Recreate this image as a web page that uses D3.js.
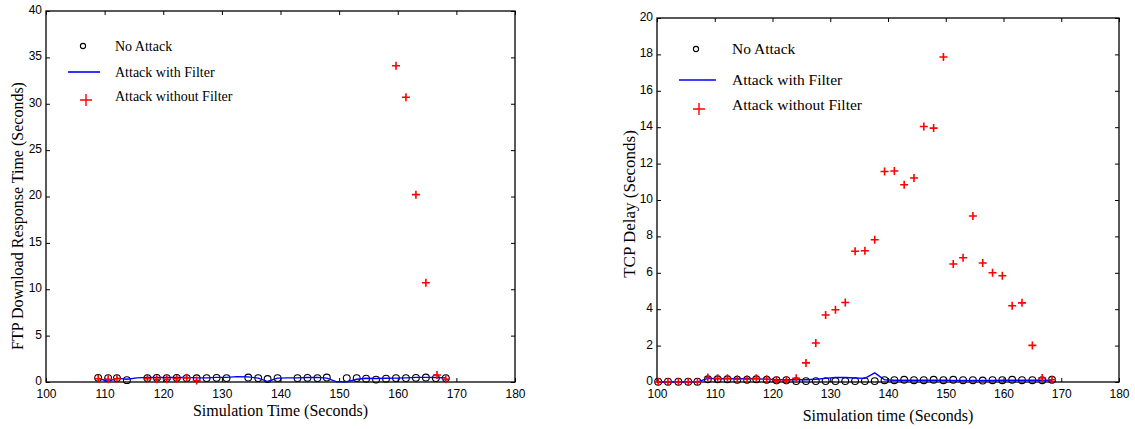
<!DOCTYPE html>
<html>
<head>
<meta charset="utf-8">
<script src="https://cdn.jsdelivr.net/npm/d3@7"></script>
<style>
    body { margin: 0; background: #fff; }
    svg { display: block; font-family: "Liberation Serif", "Times New Roman", serif; }
    .axis path { display: none; }
    .axis line { stroke: #000; }
</style>
</head>
<body>
<svg id="chart" width="1135" height="429"></svg>
<script>
// left panel: FTP download response time
const ftpTimeNoAttack = [108.9, 110.6, 112.1, 113.8, 117.3, 118.9, 120.6, 122.3, 124.0, 125.7, 127.4, 129.1, 130.8,
    134.5, 136.2, 137.8, 139.5, 142.9, 144.6, 146.3, 147.9, 151.3, 153.0, 154.6, 156.3, 158.0, 159.7, 161.4,
    163.1, 164.8, 166.5, 168.2];
const ftpNoAttack = [0.45, 0.42, 0.42, 0.2, 0.42, 0.45, 0.42, 0.45, 0.42, 0.4, 0.42, 0.45, 0.42,
    0.48, 0.42, 0.32, 0.42, 0.42, 0.45, 0.42, 0.48, 0.42, 0.42, 0.36, 0.26, 0.36, 0.42, 0.42,
    0.45, 0.48, 0.42, 0.42];

const ftpTimeFilter = [108.9, 110.6, 112.1, 113.8, 115.5, 117.3, 118.9, 120.6, 122.3, 124.0, 125.7, 127.4, 129.1,
    130.8, 132.6, 134.5, 136.2, 137.8, 139.5, 141.2, 142.9, 144.6, 146.3, 147.9, 149.6, 151.3, 153.0, 154.6,
    156.3, 158.0, 159.7, 161.4, 163.1, 164.8, 166.5, 168.2];
const ftpFilter = [0.4, 0.05, 0.42, 0.3, 0.45, 0.5, 0.48, 0.48, 0.48, 0.5, 0.45, 0.45, 0.5,
    0.5, 0.58, 0.55, 0.42, 0.05, 0.42, 0.45, 0.45, 0.48, 0.5, 0.42, 0.02, 0.02, 0.3, 0.4,
    0.38, 0.4, 0.42, 0.45, 0.5, 0.5, 0.48, 0.45];

const ftpTimeNoFilter = [108.9, 110.6, 112.1, 117.3, 118.9, 120.6, 122.3, 124.0, 125.7,
    159.7, 161.4, 163.1, 164.8, 166.7, 168.2];
const ftpNoFilter = [0.35, 0.3, 0.35, 0.35, 0.3, 0.3, 0.35, 0.45, 0.15,
    34.1, 30.7, 20.2, 10.7, 0.75, 0.3];

// right panel: TCP delay
const tcpTime = [100.2, 101.9, 103.7, 105.4, 107.0, 108.8, 110.5, 112.2, 113.9, 115.6, 117.2, 119.0, 120.7,
    122.4, 124.1, 125.8, 127.5, 129.2, 130.9, 132.6, 134.3, 136.0, 137.7, 139.4, 141.1, 142.8, 144.5,
    146.2, 147.9, 149.6, 151.3, 153.0, 154.7, 156.4, 158.1, 159.8, 161.5, 163.2, 165.0, 166.7, 168.4];
const tcpNoAttack = [0.02, 0.02, 0.02, 0.02, 0.02, 0.15, 0.15, 0.15, 0.12, 0.12, 0.15, 0.12, 0.1,
    0.1, 0.05, 0.05, 0.05, 0.05, 0.05, 0.05, 0.05, 0.05, 0.05, 0.1, 0.1, 0.12, 0.1,
    0.1, 0.12, 0.1, 0.12, 0.1, 0.1, 0.08, 0.1, 0.1, 0.12, 0.1, 0.1, 0.1, 0.12];
const tcpFilter = [0, 0, 0, 0, 0, 0.2, 0.18, 0.18, 0.18, 0.18, 0.18, 0.15, 0.12,
    0.12, 0.12, 0.12, 0.15, 0.2, 0.25, 0.25, 0.22, 0.2, 0.5, 0.12, 0.1, 0.1, 0.1,
    0.1, 0.1, 0.1, 0.08, 0.08, 0.08, 0.08, 0.08, 0.1, 0.1, 0.1, 0.1, 0.1, 0.1];
const tcpNoFilter = [0, 0, 0, 0, 0, 0.25, 0.2, 0.2, 0.15, 0.15, 0.2, 0.15, 0.1,
    0.1, 0.2, 1.05, 2.14, 3.68, 3.97, 4.37, 7.18, 7.21, 7.82, 11.57, 11.59, 10.84, 11.21,
    14.04, 13.95, 17.86, 6.48, 6.83, 9.12, 6.54, 6.0, 5.84, 4.19, 4.35, 2.01, 0.22, 0.12];

const xTicks = [100, 110, 120, 130, 140, 150, 160, 170, 180];
const ftpTicks = [0, 5, 10, 15, 20, 25, 30, 35, 40];
const tcpTicks = [0, 2, 4, 6, 8, 10, 12, 14, 16, 18, 20];
const legendLabels = ['No Attack', 'Attack with Filter', 'Attack without Filter'];

const svg = d3.select('#chart');

function plus(sel, size) {
    return sel.attr('d', `M${-size},0H${size}M0,${-size}V${size}`);
}

function drawPanel(p) {
    const x = d3.scaleLinear().domain([100, 180]).range([p.left, p.right]);
    const y = d3.scaleLinear().domain([0, p.yMax]).range([p.bottom, p.top]);
    const g = svg.append('g');

    g.append('g')
        .attr('class', 'axis')
        .attr('transform', `translate(0,${p.bottom})`)
        .style('font-size', p.tickFont + 'px')
        .call(d3.axisBottom(x).tickValues(xTicks).tickSize(-4).tickPadding(p.xPad));
    g.append('g')
        .attr('class', 'axis')
        .attr('transform', `translate(0,${p.top})`)
        .call(d3.axisTop(x).tickValues(xTicks).tickSize(-4).tickFormat(''));
    g.append('g')
        .attr('class', 'axis axis--y')
        .attr('transform', `translate(${p.left},0)`)
        .style('font-size', p.tickFont + 'px')
        .call(d3.axisLeft(y).tickValues(p.yTicks).tickSize(-4).tickPadding(4));
    g.append('g')
        .attr('class', 'axis')
        .attr('transform', `translate(${p.right},0)`)
        .call(d3.axisRight(y).tickValues(p.yTicks).tickSize(-4).tickFormat(''));
    g.selectAll('.axis text').attr('fill', '#000').attr('font-family', null);
    g.selectAll('.axis--y text').attr('dy', '0.2em');

    g.append('rect')
        .attr('x', p.left).attr('y', p.top)
        .attr('width', p.right - p.left).attr('height', p.bottom - p.top)
        .attr('fill', 'none').attr('stroke', '#000').attr('stroke-width', 1.3);

    g.append('text')
        .attr('x', (p.left + p.right) / 2).attr('y', p.xTitleY)
        .attr('text-anchor', 'middle').style('font-size', p.titleFont + 'px')
        .text(p.xTitle);
    g.append('text')
        .attr('transform', `translate(${p.yTitleX},${p.yTitleMid}) rotate(-90)`)
        .attr('text-anchor', 'middle').style('font-size', p.yTitleFont + 'px')
        .text(p.yTitle);

    // series
    g.selectAll('.dot')
        .data(p.noAttack.map((v, i) => [p.tNoAttack[i], v]))
        .enter()
        .append('circle')
        .attr('cx', d => x(d[0]))
        .attr('cy', d => y(d[1]))
        .attr('r', 3.4)
        .attr('fill', 'none')
        .attr('stroke', '#000')
        .attr('stroke-width', 1.1);

    g.append('path')
        .datum(p.filter.map((v, i) => [p.tFilter[i], v]))
        .attr('d', d3.line().x(d => x(d[0])).y(d => y(d[1])))
        .attr('fill', 'none')
        .attr('stroke', '#0000ff')
        .attr('stroke-width', 1.4);

    g.selectAll('.cross')
        .data(p.noFilter.map((v, i) => [p.tNoFilter[i], v]))
        .enter()
        .append('path')
        .attr('transform', d => `translate(${x(d[0])},${y(d[1])})`)
        .call(plus, 4)
        .attr('stroke', '#ff0000')
        .attr('stroke-width', 1.6);

    // legend
    const lg = p.legend;
    g.append('circle')
        .attr('cx', lg.markX).attr('cy', lg.rows[0])
        .attr('r', 2.6).attr('fill', 'none').attr('stroke', '#000').attr('stroke-width', 1.1);
    g.append('line')
        .attr('x1', lg.lineX0).attr('x2', lg.lineX1)
        .attr('y1', lg.rows[1]).attr('y2', lg.rows[1])
        .attr('stroke', '#0000ff').attr('stroke-width', 1.6);
    g.append('path')
        .attr('transform', `translate(${lg.markX + 3},${lg.rows[2] + 4})`)
        .call(plus, 6)
        .attr('stroke', '#ff0000').attr('stroke-width', 1.4);
    g.selectAll('.leg')
        .data(legendLabels)
        .enter()
        .append('text')
        .attr('x', lg.textX)
        .attr('y', (d, i) => lg.rows[i])
        .attr('dy', '0.35em')
        .style('font-size', lg.font + 'px')
        .text(d => d);
}

drawPanel({
    left: 46, right: 515, top: 11, bottom: 382, yMax: 40, yTicks: ftpTicks,
    tickFont: 12, xPad: 7.3, titleFont: 16, yTitleFont: 16,
    xTitle: 'Simulation Time (Seconds)', xTitleY: 415.5,
    yTitle: 'FTP Download Response Time (Seconds)', yTitleX: 23, yTitleMid: 216,
    tNoAttack: ftpTimeNoAttack, noAttack: ftpNoAttack,
    tFilter: ftpTimeFilter, filter: ftpFilter,
    tNoFilter: ftpTimeNoFilter, noFilter: ftpNoFilter,
    legend: { markX: 83, lineX0: 68, lineX1: 100, textX: 115, rows: [46, 72, 96], font: 14 },
});

drawPanel({
    left: 657, right: 1119, top: 18, bottom: 382, yMax: 20, yTicks: tcpTicks,
    tickFont: 12, xPad: 7.3, titleFont: 16, yTitleFont: 17,
    xTitle: 'Simulation time (Seconds)', xTitleY: 421,
    yTitle: 'TCP Delay (Seconds)', yTitleX: 635, yTitleMid: 204,
    tNoAttack: tcpTime, noAttack: tcpNoAttack,
    tFilter: tcpTime, filter: tcpFilter,
    tNoFilter: tcpTime, noFilter: tcpNoFilter,
    legend: { markX: 696, lineX0: 679, lineX1: 716, textX: 732, rows: [49, 80, 105], font: 15.5 },
});
</script>
</body>
</html>
